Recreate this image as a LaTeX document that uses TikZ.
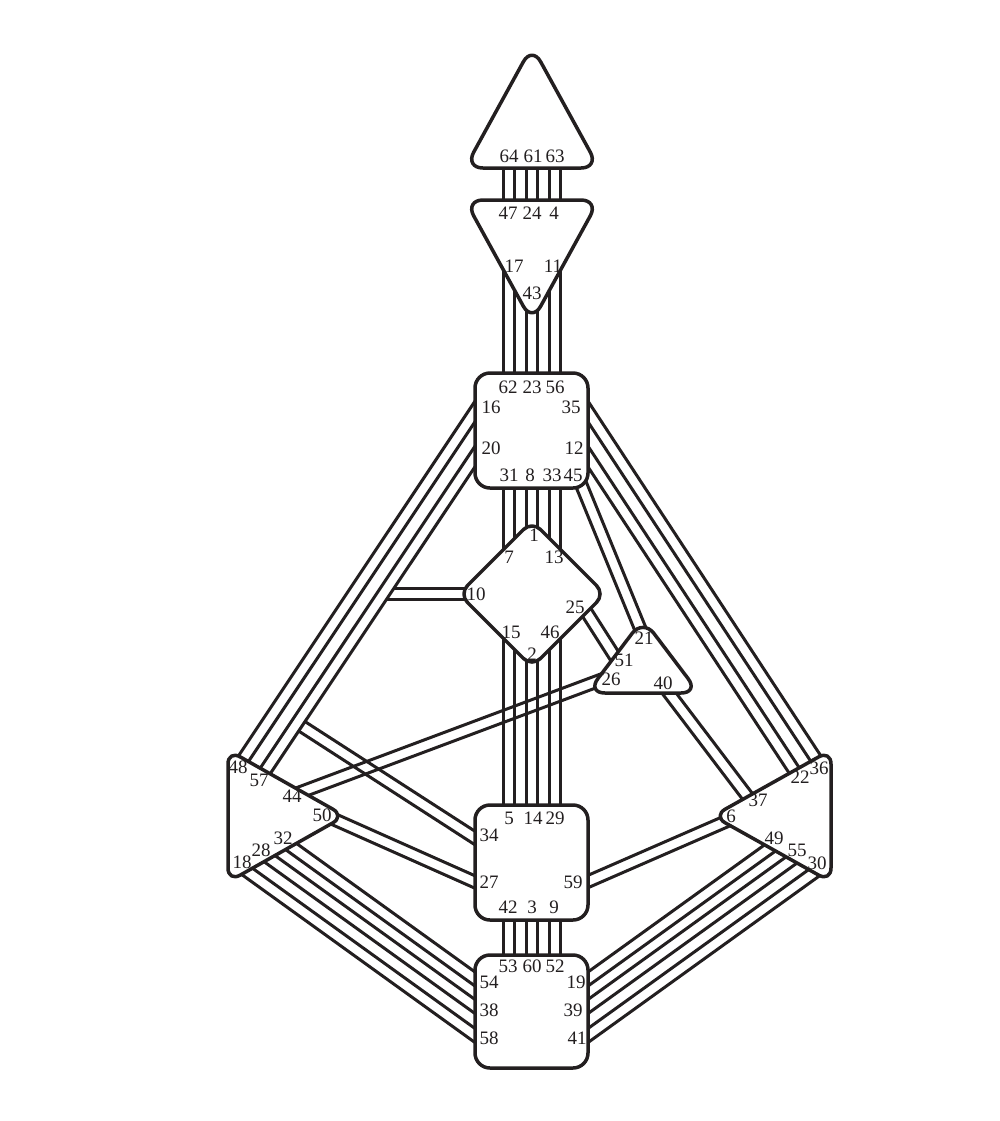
\documentclass[tikz,border=0pt]{standalone}
\usepackage{fontspec}
\setmainfont{Liberation Serif}
\usetikzlibrary{calc}

\definecolor{ink}{HTML}{231F20}
\newcommand{\gatefont}{\fontsize{9.5}{11}\selectfont}
% a channel: two parallel lines round the centre line a--b
\newcommand{\chan}[2]{%
  \draw[chanline] ($(#1)!2.85pt!90:(#2)$) -- ($(#2)!2.85pt!-90:(#1)$);
  \draw[chanline] ($(#1)!2.85pt!-90:(#2)$) -- ($(#2)!2.85pt!90:(#1)$);}

\tikzset{
  centre/.style={draw=ink, line width=1.75pt, fill=white, rounded corners=5pt, line join=round},
  chanline/.style={draw=ink, line width=1.5pt},
  gate/.style={font=\gatefont, text=ink, inner sep=0pt}
}

\begin{document}
\begin{tikzpicture}[x=0.5pt,y=-0.5pt]
  \useasboundingbox (0,0) rectangle (1000,1121);
  % head - ajna
  \coordinate (c64) at (509,150); \coordinate (c47) at (509,215);
  \coordinate (c61) at (532,150); \coordinate (c24) at (532,215);
  \coordinate (c63) at (555,150); \coordinate (c4) at (555,215);
  \chan{c64}{c47} \chan{c61}{c24} \chan{c63}{c4}
  % ajna - throat
  \coordinate (c17) at (509,255); \coordinate (c62) at (509,390);
  \coordinate (c43) at (532,290); \coordinate (c23) at (532,390);
  \coordinate (c11) at (555,255); \coordinate (c56) at (555,390);
  \chan{c17}{c62} \chan{c43}{c23} \chan{c11}{c56}
  % throat - g
  \coordinate (c31) at (509,470); \coordinate (c7) at (509,565);
  \coordinate (c8) at (532,470); \coordinate (c1) at (532,545);
  \coordinate (c33) at (555,470); \coordinate (c13) at (555,565);
  \chan{c31}{c7} \chan{c8}{c1} \chan{c33}{c13}
  % g - sacral
  \coordinate (c15) at (509,620); \coordinate (c5) at (509,825);
  \coordinate (c2) at (532,640); \coordinate (c14) at (532,825);
  \coordinate (c46) at (555,620); \coordinate (c29) at (555,825);
  \chan{c15}{c5} \chan{c2}{c14} \chan{c46}{c29}
  % sacral - root
  \coordinate (c42) at (509,900); \coordinate (c53) at (509,975);
  \coordinate (c3) at (532,900); \coordinate (c60) at (532,975);
  \coordinate (c9) at (555,900); \coordinate (c52) at (555,975);
  \chan{c42}{c53} \chan{c3}{c60} \chan{c9}{c52}
  % throat - spleen
  \coordinate (c16) at (483.3,399); \coordinate (c48) at (236.4,769.3);
  \coordinate (c20) at (483.3,444); \coordinate (c57) at (258.5,781);
  \chan{c16}{c48} \chan{c20}{c57}
  % throat - solar plexus
  \coordinate (c35) at (579.8,399); \coordinate (c36) at (822,768);
  \coordinate (c12) at (579.8,444); \coordinate (c22) at (802.1,782.5);
  \chan{c35}{c36} \chan{c12}{c22}
  % throat - heart, g - heart
  \coordinate (c45) at (564.2,443.1); \coordinate (c21) at (644.7,639.7);
  \coordinate (c25) at (577.5,598); \coordinate (c51) at (621.4,666.8);
  \chan{c45}{c21} \chan{c25}{c51}
  % heart - spleen, heart - solar plexus
  \coordinate (c26) at (616.7,674); \coordinate (c44) at (294,794.7);
  \coordinate (c40) at (660.1,681.3); \coordinate (c37) at (760,812.9);
  \chan{c26}{c44} \chan{c40}{c37}
  % sacral - spleen, sacral - solar plexus
  \coordinate (c50) at (319.7,812.9); \coordinate (c27) at (488.7,888.1);
  \coordinate (c59) at (572,888.5); \coordinate (c6) at (740,815.3);
  \chan{c50}{c27} \chan{c59}{c6}
  % root - spleen
  \coordinate (c54) at (495,993.4); \coordinate (c32) at (262,825.6);
  \coordinate (c38) at (495,1020.9); \coordinate (c28) at (252,846);
  \coordinate (c58) at (495,1049.9); \coordinate (c18) at (242,867.7);
  \chan{c54}{c32} \chan{c38}{c28} \chan{c58}{c18}
  % root - solar plexus
  \coordinate (c19) at (568,993.4); \coordinate (c49) at (798,827.8);
  \coordinate (c39) at (568,1020.9); \coordinate (c55) at (808,848.1);
  \coordinate (c41) at (568,1049.9); \coordinate (c30) at (818,869.9);
  \chan{c19}{c49} \chan{c39}{c55} \chan{c41}{c30}
  % 10 and 34 stop on the inner line of 20-57
  \begin{scope}
    \clip (535.2,376.5) -- (202.2,875.7) -- (202.2,1121) -- (1000,1121) -- (1000,376.5) -- cycle;
    \coordinate (c10) at (480,594); \coordinate (k10) at (370,594);
    \coordinate (c34) at (490,847.7); \coordinate (k34) at (280,712.2);
    \chan{c10}{k10} \chan{c34}{k34}
  \end{scope}

  % centres
  \draw[centre, rounded corners=9pt] (532,46) -- (599,168) -- (465,168) -- cycle;
  \draw[centre, rounded corners=9pt] (465,200) -- (599,200) -- (532,322) -- cycle;
  \draw[centre, rounded corners=7.5pt] (475,373) rectangle (588,488);
  \draw[centre, rounded corners=6pt] (532,521) -- (605,594) -- (532,667) -- (459,594) -- cycle;
  \draw[centre, rounded corners=9pt] (643,619) -- (699,693) -- (587,693) -- cycle;
  \draw[centre, rounded corners=7pt] (228,750) -- (345,816) -- (228,882) -- cycle;
  \draw[centre, rounded corners=7pt] (831,750) -- (831,882) -- (713,816) -- cycle;
  \draw[centre, rounded corners=7.5pt] (475,805) rectangle (588,920);
  \draw[centre, rounded corners=7.5pt] (475,955) rectangle (588,1068);

  % head
  \node[gate] (n64) at (509,156) {64};
  \node[gate] (n61) at (533,156) {61};
  \node[gate] (n63) at (555,156) {63};
  % ajna
  \node[gate] (n47) at (508,213) {47};
  \node[gate] (n24) at (532,213) {24};
  \node[gate] (n4) at (554,213) {4};
  \node[gate] (n17) at (514,266) {17};
  \node[gate] (n11) at (553,266) {11};
  \node[gate] (n43) at (532,293) {43};
  % throat
  \node[gate] (n62) at (508,387) {62};
  \node[gate] (n23) at (532,387) {23};
  \node[gate] (n56) at (555,387) {56};
  \node[gate] (n16) at (491,407) {16};
  \node[gate] (n35) at (571,407) {35};
  \node[gate] (n20) at (491,448) {20};
  \node[gate] (n12) at (574,448) {12};
  \node[gate] (n31) at (509,475) {31};
  \node[gate] (n8) at (530,475) {8};
  \node[gate] (n33) at (552,475) {33};
  \node[gate] (n45) at (573,475) {45};
  % g
  \node[gate] (n1) at (534,535) {1};
  \node[gate] (n7) at (509,557) {7};
  \node[gate] (n13) at (554,557) {13};
  \node[gate] (n10) at (476,594) {10};
  \node[gate] (n25) at (575,607) {25};
  \node[gate] (n15) at (511,632) {15};
  \node[gate] (n46) at (550,632) {46};
  \node[gate] (n2) at (532,654) {2};
  % heart
  \node[gate] (n21) at (644,638) {21};
  \node[gate] (n51) at (624,660) {51};
  \node[gate] (n26) at (611,679) {26};
  \node[gate] (n40) at (663,683) {40};
  % spleen
  \node[gate] (n48) at (238,767) {48};
  \node[gate] (n57) at (259,780) {57};
  \node[gate] (n44) at (292,796) {44};
  \node[gate] (n50) at (322,815) {50};
  \node[gate] (n32) at (283,838) {32};
  \node[gate] (n28) at (261,850) {28};
  \node[gate] (n18) at (242,862) {18};
  % solar plexus
  \node[gate] (n36) at (819,768) {36};
  \node[gate] (n22) at (800,777) {22};
  \node[gate] (n37) at (758,800) {37};
  \node[gate] (n6) at (731,816) {6};
  \node[gate] (n49) at (774,838) {49};
  \node[gate] (n55) at (797,850) {55};
  \node[gate] (n30) at (817,863) {30};
  % sacral
  \node[gate] (n5) at (509,818) {5};
  \node[gate] (n14) at (533,818) {14};
  \node[gate] (n29) at (555,818) {29};
  \node[gate] (n34) at (489,835) {34};
  \node[gate] (n27) at (489,882) {27};
  \node[gate] (n59) at (573,882) {59};
  \node[gate] (n42) at (508,907) {42};
  \node[gate] (n3) at (532,907) {3};
  \node[gate] (n9) at (554,907) {9};
  % root
  \node[gate] (n53) at (508,966) {53};
  \node[gate] (n60) at (532,966) {60};
  \node[gate] (n52) at (555,966) {52};
  \node[gate] (n54) at (489,982) {54};
  \node[gate] (n19) at (576,982) {19};
  \node[gate] (n38) at (489,1010) {38};
  \node[gate] (n39) at (573,1010) {39};
  \node[gate] (n58) at (489,1038) {58};
  \node[gate] (n41) at (577,1038) {41};
\end{tikzpicture}
\end{document}
